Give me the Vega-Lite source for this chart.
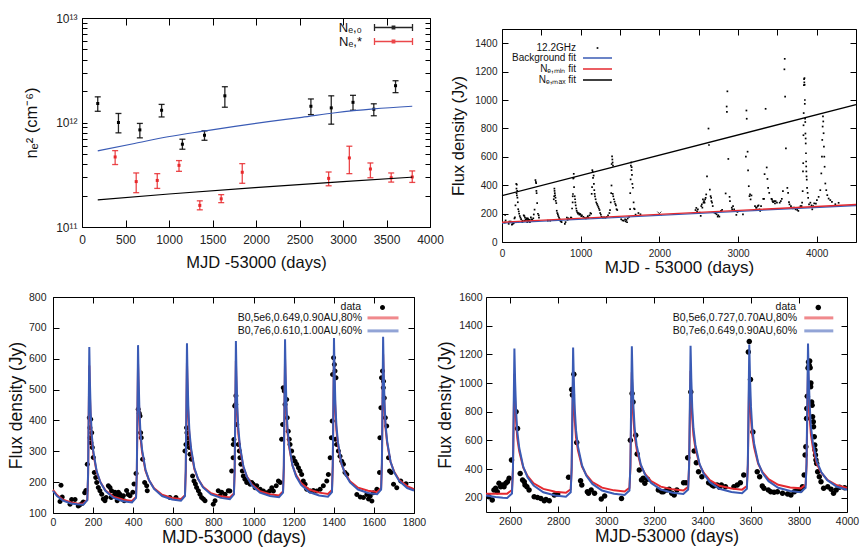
{
"$schema": "https://vega.github.io/schema/vega-lite/v6.json",
"padding": {"left": 6, "top": 11, "right": 0, "bottom": 0},
"config": {
  "font": "Liberation Sans",
  "view": {"stroke": "#000", "strokeWidth": 1},
  "axis": {"grid": false, "domain": false, "ticks": true, "tickColor": "#000", "tickWidth": 1, "labelColor": "#222", "titleColor": "#111", "titleFontWeight": "normal", "labelFont": "Liberation Sans", "titleFont": "Liberation Sans", "labelFlush": false, "labelOverlap": false},
  "legend": {"padding": 0, "labelFont": "Liberation Sans", "labelColor": "#111", "labelLimit": 400, "rowPadding": 0, "title": null, "symbolStrokeWidth": 1.3}
},
"datasets": {
  "dummy": [{"a": 0}],
  "ne": [
    {"s":"Nₑ,₀","t":181,"v":1.52e12,"lo":1.28e12,"hi":1.76e12},
    {"s":"Nₑ,₀","t":419,"v":1.0e12,"lo":7.96e11,"hi":1.22e12},
    {"s":"Nₑ,₀","t":665,"v":8.5e11,"lo":7.13e11,"hi":9.8e11},
    {"s":"Nₑ,₀","t":915,"v":1.31e12,"lo":1.13e12,"hi":1.49e12},
    {"s":"Nₑ,₀","t":1154,"v":6.2e11,"lo":5.55e11,"hi":6.92e11},
    {"s":"Nₑ,₀","t":1408,"v":7.55e11,"lo":6.76e11,"hi":8.32e11},
    {"s":"Nₑ,₀","t":1642,"v":1.8e12,"lo":1.4e12,"hi":2.2e12},
    {"s":"Nₑ,₀","t":2631,"v":1.43e12,"lo":1.19e12,"hi":1.68e12},
    {"s":"Nₑ,₀","t":2865,"v":1.38e12,"lo":9.64e11,"hi":1.8e12},
    {"s":"Nₑ,₀","t":3115,"v":1.56e12,"lo":1.31e12,"hi":1.82e12},
    {"s":"Nₑ,₀","t":3354,"v":1.34e12,"lo":1.16e12,"hi":1.51e12},
    {"s":"Nₑ,₀","t":3604,"v":2.25e12,"lo":1.93e12,"hi":2.51e12},
    {"s":"Nₑ,*","t":381,"v":4.68e11,"lo":3.96e11,"hi":5.38e11},
    {"s":"Nₑ,*","t":623,"v":2.72e11,"lo":2.13e11,"hi":3.29e11},
    {"s":"Nₑ,*","t":865,"v":2.79e11,"lo":2.34e11,"hi":3.24e11},
    {"s":"Nₑ,*","t":1115,"v":3.89e11,"lo":3.41e11,"hi":4.32e11},
    {"s":"Nₑ,*","t":1354,"v":1.61e11,"lo":1.46e11,"hi":1.78e11},
    {"s":"Nₑ,*","t":1600,"v":1.86e11,"lo":1.71e11,"hi":2.04e11},
    {"s":"Nₑ,*","t":1842,"v":3.34e11,"lo":2.62e11,"hi":4.04e11},
    {"s":"Nₑ,*","t":2835,"v":2.92e11,"lo":2.48e11,"hi":3.36e11},
    {"s":"Nₑ,*","t":3073,"v":4.58e11,"lo":3.24e11,"hi":5.93e11},
    {"s":"Nₑ,*","t":3315,"v":3.59e11,"lo":2.96e11,"hi":4.1e11},
    {"s":"Nₑ,*","t":3554,"v":2.96e11,"lo":2.69e11,"hi":3.29e11},
    {"s":"Nₑ,*","t":3796,"v":3.01e11,"lo":2.67e11,"hi":3.44e11}
  ],
  "fitTL": [
    {"c":"b","t":181,"v":5.35e11},{"c":"b","t":604,"v":6.3e11},{"c":"b","t":988,"v":7.3e11},{"c":"b","t":1408,"v":8.3e11},{"c":"b","t":1758,"v":9.2e11},{"c":"b","t":2142,"v":1.02e12},{"c":"b","t":2527,"v":1.12e12},{"c":"b","t":2912,"v":1.24e12},{"c":"b","t":3354,"v":1.35e12},{"c":"b","t":3796,"v":1.43e12},
    {"c":"k","t":181,"v":1.82e11},{"c":"k","t":1000,"v":2.07e11},{"c":"k","t":1988,"v":2.38e11},{"c":"k","t":3000,"v":2.72e11},{"c":"k","t":3796,"v":3.0e11}
  ],
  "fitTR": [
    {"c":"b","t":0,"f":133},{"c":"b","t":4500,"f":257},
    {"c":"r","t":0,"f":139},{"c":"r","t":4500,"f":264},
    {"c":"k","t":0,"f":326},{"c":"k","t":4500,"f":968}
  ],
  "cross": [{"t":2000,"f":200}],
  "flux": [
    {"t":35,"f":137},{"t":40,"f":190},{"t":46,"f":152},{"t":85,"f":128},{"t":93,"f":144},{"t":110,"f":144},{"t":126,"f":123},{"t":133,"f":126},{"t":145,"f":131},{"t":151,"f":136},{"t":158,"f":166},{"t":164,"f":173},{"t":171,"f":258},
    {"t":181,"f":409},{"t":184,"f":376},{"t":185,"f":344},{"t":188,"f":404},{"t":189,"f":328},{"t":193,"f":360},{"t":196,"f":312},{"t":201,"f":280},{"t":206,"f":231},{"t":213,"f":215},{"t":218,"f":199},{"t":226,"f":183},{"t":234,"f":172},{"t":243,"f":161},{"t":251,"f":145},{"t":259,"f":140},{"t":265,"f":150},{"t":276,"f":188},{"t":284,"f":183},{"t":290,"f":150},{"t":292,"f":172},{"t":301,"f":156},{"t":309,"f":167},{"t":317,"f":156},{"t":320,"f":140},{"t":326,"f":167},{"t":330,"f":150},{"t":334,"f":161},{"t":342,"f":145},{"t":351,"f":156},{"t":355,"f":140},{"t":367,"f":173},{"t":375,"f":160},{"t":384,"f":156},{"t":398,"f":167},{"t":404,"f":194},{"t":414,"f":228},
    {"t":425,"f":436},{"t":430,"f":423},{"t":434,"f":414},{"t":437,"f":360},{"t":440,"f":344},{"t":447,"f":274},{"t":457,"f":199},{"t":467,"f":188},{"t":470,"f":172},{"t":583,"f":150},{"t":613,"f":150},
    {"t":658,"f":301},{"t":663,"f":322},{"t":666,"f":376},{"t":668,"f":360},{"t":671,"f":344},{"t":675,"f":328},{"t":680,"f":312},{"t":683,"f":290},{"t":690,"f":274},{"t":696,"f":220},{"t":703,"f":204},{"t":710,"f":194},{"t":716,"f":183},{"t":725,"f":172},{"t":733,"f":161},{"t":741,"f":150},{"t":750,"f":145},{"t":758,"f":140},{"t":799,"f":128},{"t":808,"f":140},{"t":824,"f":172},{"t":833,"f":156},{"t":841,"f":167},{"t":858,"f":161},{"t":874,"f":172},{"t":882,"f":171},{"t":891,"f":236},{"t":898,"f":279},{"t":899,"f":322},{"t":902,"f":338},
    {"t":906,"f":447},{"t":911,"f":452},{"t":912,"f":480},{"t":916,"f":387},{"t":924,"f":322},{"t":929,"f":301},{"t":932,"f":279},{"t":937,"f":258},{"t":944,"f":236},{"t":949,"f":220},{"t":957,"f":209},{"t":966,"f":199},{"t":974,"f":204},{"t":983,"f":193},{"t":991,"f":199},{"t":999,"f":193},{"t":1008,"f":182},{"t":1016,"f":188},{"t":1033,"f":177},{"t":1049,"f":171},{"t":1066,"f":166},{"t":1080,"f":171},{"t":1091,"f":182},{"t":1099,"f":171},{"t":1113,"f":188},{"t":1124,"f":204},{"t":1133,"f":199},{"t":1140,"f":339},{"t":1145,"f":387},
    {"t":1148,"f":506},{"t":1153,"f":495},{"t":1157,"f":452},{"t":1165,"f":468},{"t":1168,"f":409},{"t":1173,"f":365},{"t":1178,"f":339},{"t":1182,"f":322},{"t":1190,"f":301},{"t":1198,"f":279},{"t":1207,"f":268},{"t":1215,"f":258},{"t":1224,"f":247},{"t":1232,"f":236},{"t":1240,"f":225},{"t":1248,"f":204},{"t":1257,"f":193},{"t":1265,"f":177},{"t":1282,"f":171},{"t":1298,"f":173},{"t":1315,"f":171},{"t":1332,"f":177},{"t":1348,"f":188},{"t":1365,"f":204},{"t":1373,"f":225},{"t":1382,"f":279},{"t":1388,"f":344},{"t":1392,"f":398},
    {"t":1394,"f":549},{"t":1399,"f":603},{"t":1403,"f":581},{"t":1406,"f":560},{"t":1408,"f":339},{"t":1411,"f":538},{"t":1414,"f":322},{"t":1423,"f":301},{"t":1431,"f":284},{"t":1440,"f":268},{"t":1448,"f":258},{"t":1456,"f":231},{"t":1465,"f":225},{"t":1515,"f":160},{"t":1532,"f":152},{"t":1548,"f":150},{"t":1565,"f":160},{"t":1573,"f":145},{"t":1582,"f":155},{"t":1590,"f":139},{"t":1598,"f":166},{"t":1615,"f":177},{"t":1628,"f":231},
    {"t":1630,"f":344},{"t":1635,"f":441},{"t":1638,"f":538},{"t":1643,"f":560},{"t":1647,"f":506},{"t":1648,"f":527},{"t":1652,"f":473},{"t":1657,"f":409},{"t":1664,"f":382},{"t":1673,"f":279},{"t":1678,"f":236},{"t":1686,"f":231},{"t":1698,"f":193},{"t":1714,"f":182},{"t":1734,"f":204},{"t":1760,"f":195},
    {"t":2460,"f":225},{"t":2470,"f":240},{"t":2480,"f":215},{"t":2490,"f":230},
    {"t":2512,"f":207},{"t":2526,"f":184},{"t":2533,"f":253},{"t":2540,"f":265},{"t":2547,"f":242},{"t":2554,"f":300},{"t":2561,"f":277},{"t":2568,"f":288},{"t":2575,"f":277},{"t":2582,"f":300},{"t":2589,"f":311},{"t":2596,"f":335},{"t":2606,"f":462},{"t":2625,"f":799},{"t":2631,"f":683},{"t":2642,"f":369},{"t":2652,"f":323},{"t":2659,"f":311},{"t":2662,"f":288},{"t":2670,"f":277},{"t":2679,"f":253},{"t":2700,"f":207},{"t":2714,"f":202},{"t":2728,"f":195},{"t":2742,"f":179},{"t":2749,"f":188},{"t":2763,"f":179},{"t":2784,"f":219},{"t":2798,"f":226},
    {"t":2843,"f":342},{"t":2856,"f":954},{"t":2859,"f":917},{"t":2865,"f":1061},{"t":2877,"f":585},{"t":2893,"f":318},{"t":2898,"f":288},{"t":2921,"f":242},{"t":2926,"f":230},{"t":2937,"f":253},{"t":2951,"f":230},{"t":2979,"f":191},{"t":2993,"f":212},{"t":3063,"f":195},
    {"t":3100,"f":601},{"t":3107,"f":926},{"t":3111,"f":868},{"t":3122,"f":636},{"t":3128,"f":504},{"t":3137,"f":393},{"t":3146,"f":323},{"t":3153,"f":335},{"t":3160,"f":300},{"t":3171,"f":328},{"t":3216,"f":253},{"t":3230,"f":242},{"t":3237,"f":242},{"t":3251,"f":253},{"t":3261,"f":258},{"t":3272,"f":230},{"t":3282,"f":219},{"t":3293,"f":253},
    {"t":3321,"f":304},{"t":3331,"f":304},{"t":3338,"f":478},{"t":3351,"f":938},{"t":3365,"f":525},{"t":3374,"f":444},{"t":3383,"f":381},{"t":3397,"f":346},{"t":3425,"f":304},{"t":3432,"f":300},{"t":3439,"f":288},{"t":3446,"f":281},{"t":3460,"f":288},{"t":3470,"f":272},{"t":3478,"f":288},{"t":3495,"f":277},{"t":3530,"f":277},{"t":3544,"f":288},{"t":3557,"f":304},{"t":3571,"f":358},
    {"t":3590,"f":1216},{"t":3594,"f":1290},{"t":3599,"f":1024},{"t":3609,"f":659},{"t":3627,"f":381},{"t":3637,"f":346},{"t":3648,"f":281},{"t":3655,"f":265},{"t":3673,"f":253},{"t":3683,"f":242},{"t":3697,"f":237},{"t":3711,"f":242},{"t":3732,"f":230},{"t":3753,"f":226},{"t":3767,"f":219},{"t":3781,"f":242},{"t":3795,"f":253},{"t":3808,"f":253},{"t":3815,"f":277},
    {"t":3822,"f":358},{"t":3826,"f":497},{"t":3829,"f":555},{"t":3832,"f":752},{"t":3833,"f":822},{"t":3835,"f":908},{"t":3838,"f":1105},{"t":3840,"f":1147},{"t":3843,"f":1124},{"t":3845,"f":1154},{"t":3847,"f":1107},{"t":3849,"f":973},{"t":3850,"f":1000},{"t":3853,"f":868},{"t":3855,"f":845},{"t":3857,"f":764},{"t":3860,"f":729},{"t":3861,"f":694},{"t":3864,"f":625},{"t":3866,"f":567},{"t":3867,"f":532},{"t":3869,"f":497},{"t":3871,"f":462},{"t":3874,"f":439},{"t":3878,"f":381},{"t":3885,"f":346},{"t":3892,"f":311},{"t":3903,"f":265},{"t":3920,"f":277},{"t":3934,"f":258},{"t":3944,"f":230},{"t":3955,"f":253},{"t":3969,"f":272},{"t":3990,"f":270},
    {"t":4003,"f":295},{"t":4025,"f":318},{"t":4046,"f":365},{"t":4059,"f":483},{"t":4067,"f":601},{"t":4071,"f":719},{"t":4076,"f":813},{"t":4080,"f":884},{"t":4084,"f":849},{"t":4088,"f":766},{"t":4092,"f":672},{"t":4097,"f":601},{"t":4101,"f":530},{"t":4110,"f":412},{"t":4122,"f":365},{"t":4135,"f":330},{"t":4152,"f":306},{"t":4173,"f":295},{"t":4194,"f":283},{"t":4237,"f":266},{"t":4279,"f":276}
  ],
  "mBL": [
    {"c":"b","t":0,"f":172},{"c":"b","t":20,"f":155},{"c":"b","t":50,"f":140},{"c":"b","t":90,"f":131},{"c":"b","t":120,"f":128},
    {"c":"b","t":151,"f":127},{"c":"b","t":171,"f":142},{"c":"b","t":175,"f":229},{"c":"b","t":178,"f":434},{"c":"b","t":181,"f":638},{"c":"b","t":184,"f":527},{"c":"b","t":188,"f":426},{"c":"b","t":193,"f":356},{"c":"b","t":201,"f":300},{"c":"b","t":218,"f":235},{"c":"b","t":236,"f":200},{"c":"b","t":261,"f":172},{"c":"b","t":301,"f":149},{"c":"b","t":351,"f":138},
    {"c":"b","t":394,"f":134},{"c":"b","t":414,"f":149},{"c":"b","t":418,"f":236},{"c":"b","t":421,"f":440},{"c":"b","t":424,"f":644},{"c":"b","t":427,"f":533},{"c":"b","t":431,"f":432},{"c":"b","t":436,"f":362},{"c":"b","t":444,"f":306},{"c":"b","t":461,"f":241},{"c":"b","t":479,"f":206},{"c":"b","t":504,"f":178},{"c":"b","t":544,"f":155},{"c":"b","t":594,"f":144},
    {"c":"b","t":638,"f":140},{"c":"b","t":658,"f":155},{"c":"b","t":662,"f":242},{"c":"b","t":665,"f":446},{"c":"b","t":668,"f":650},{"c":"b","t":671,"f":539},{"c":"b","t":675,"f":438},{"c":"b","t":680,"f":367},{"c":"b","t":688,"f":312},{"c":"b","t":705,"f":246},{"c":"b","t":723,"f":211},{"c":"b","t":748,"f":183},{"c":"b","t":788,"f":160},{"c":"b","t":838,"f":149},
    {"c":"b","t":882,"f":145},{"c":"b","t":902,"f":160},{"c":"b","t":906,"f":247},{"c":"b","t":909,"f":452},{"c":"b","t":912,"f":657},{"c":"b","t":915,"f":546},{"c":"b","t":919,"f":444},{"c":"b","t":924,"f":374},{"c":"b","t":932,"f":318},{"c":"b","t":949,"f":252},{"c":"b","t":967,"f":217},{"c":"b","t":992,"f":189},{"c":"b","t":1032,"f":166},{"c":"b","t":1082,"f":155},
    {"c":"b","t":1127,"f":151},{"c":"b","t":1147,"f":166},{"c":"b","t":1151,"f":253},{"c":"b","t":1154,"f":458},{"c":"b","t":1157,"f":663},{"c":"b","t":1160,"f":551},{"c":"b","t":1164,"f":449},{"c":"b","t":1169,"f":377},{"c":"b","t":1177,"f":321},{"c":"b","t":1194,"f":255},{"c":"b","t":1212,"f":219},{"c":"b","t":1237,"f":191},{"c":"b","t":1277,"f":168},{"c":"b","t":1327,"f":157},
    {"c":"b","t":1371,"f":153},{"c":"b","t":1391,"f":168},{"c":"b","t":1395,"f":256},{"c":"b","t":1398,"f":461},{"c":"b","t":1401,"f":667},{"c":"b","t":1404,"f":556},{"c":"b","t":1408,"f":454},{"c":"b","t":1413,"f":384},{"c":"b","t":1421,"f":328},{"c":"b","t":1438,"f":262},{"c":"b","t":1456,"f":227},{"c":"b","t":1481,"f":199},{"c":"b","t":1521,"f":176},{"c":"b","t":1571,"f":165},
    {"c":"b","t":1616,"f":161},{"c":"b","t":1636,"f":176},{"c":"b","t":1640,"f":263},{"c":"b","t":1643,"f":467},{"c":"b","t":1646,"f":671},{"c":"b","t":1649,"f":560},{"c":"b","t":1653,"f":459},{"c":"b","t":1658,"f":388},{"c":"b","t":1666,"f":333},{"c":"b","t":1683,"f":267},{"c":"b","t":1701,"f":232},{"c":"b","t":1726,"f":204},{"c":"b","t":1766,"f":181},{"c":"b","t":1800,"f":173},
    {"c":"r","t":0,"f":175},{"c":"r","t":20,"f":158},{"c":"r","t":50,"f":143},{"c":"r","t":90,"f":134},{"c":"r","t":120,"f":131},
    {"c":"r","t":151,"f":130},{"c":"r","t":171,"f":143},{"c":"r","t":175,"f":220},{"c":"r","t":178,"f":399},{"c":"r","t":181,"f":578},{"c":"r","t":184,"f":481},{"c":"r","t":188,"f":402},{"c":"r","t":193,"f":341},{"c":"r","t":201,"f":293},{"c":"r","t":218,"f":231},{"c":"r","t":236,"f":200},{"c":"r","t":261,"f":174},{"c":"r","t":301,"f":153},{"c":"r","t":351,"f":143},
    {"c":"r","t":394,"f":139},{"c":"r","t":414,"f":152},{"c":"r","t":418,"f":228},{"c":"r","t":421,"f":405},{"c":"r","t":424,"f":583},{"c":"r","t":427,"f":487},{"c":"r","t":431,"f":408},{"c":"r","t":436,"f":346},{"c":"r","t":444,"f":298},{"c":"r","t":461,"f":237},{"c":"r","t":479,"f":206},{"c":"r","t":504,"f":180},{"c":"r","t":544,"f":159},{"c":"r","t":594,"f":149},
    {"c":"r","t":638,"f":145},{"c":"r","t":658,"f":158},{"c":"r","t":662,"f":234},{"c":"r","t":665,"f":411},{"c":"r","t":668,"f":588},{"c":"r","t":671,"f":492},{"c":"r","t":675,"f":413},{"c":"r","t":680,"f":351},{"c":"r","t":688,"f":303},{"c":"r","t":705,"f":242},{"c":"r","t":723,"f":211},{"c":"r","t":748,"f":185},{"c":"r","t":788,"f":164},{"c":"r","t":838,"f":154},
    {"c":"r","t":882,"f":150},{"c":"r","t":902,"f":163},{"c":"r","t":906,"f":239},{"c":"r","t":909,"f":416},{"c":"r","t":912,"f":593},{"c":"r","t":915,"f":497},{"c":"r","t":919,"f":419},{"c":"r","t":924,"f":358},{"c":"r","t":932,"f":310},{"c":"r","t":949,"f":249},{"c":"r","t":967,"f":218},{"c":"r","t":992,"f":192},{"c":"r","t":1032,"f":171},{"c":"r","t":1082,"f":161},
    {"c":"r","t":1127,"f":157},{"c":"r","t":1147,"f":170},{"c":"r","t":1151,"f":245},{"c":"r","t":1154,"f":422},{"c":"r","t":1157,"f":598},{"c":"r","t":1160,"f":502},{"c":"r","t":1164,"f":424},{"c":"r","t":1169,"f":363},{"c":"r","t":1177,"f":315},{"c":"r","t":1194,"f":254},{"c":"r","t":1212,"f":223},{"c":"r","t":1237,"f":197},{"c":"r","t":1277,"f":176},{"c":"r","t":1327,"f":166},
    {"c":"r","t":1371,"f":162},{"c":"r","t":1391,"f":175},{"c":"r","t":1395,"f":251},{"c":"r","t":1398,"f":428},{"c":"r","t":1401,"f":606},{"c":"r","t":1404,"f":510},{"c":"r","t":1408,"f":431},{"c":"r","t":1413,"f":369},{"c":"r","t":1421,"f":321},{"c":"r","t":1438,"f":260},{"c":"r","t":1456,"f":229},{"c":"r","t":1481,"f":203},{"c":"r","t":1521,"f":182},{"c":"r","t":1571,"f":172},
    {"c":"r","t":1616,"f":168},{"c":"r","t":1636,"f":181},{"c":"r","t":1640,"f":257},{"c":"r","t":1643,"f":436},{"c":"r","t":1646,"f":614},{"c":"r","t":1649,"f":517},{"c":"r","t":1653,"f":437},{"c":"r","t":1658,"f":375},{"c":"r","t":1666,"f":327},{"c":"r","t":1683,"f":265},{"c":"r","t":1701,"f":234},{"c":"r","t":1726,"f":207},{"c":"r","t":1766,"f":187},{"c":"r","t":1800,"f":177}
  ],
  "mBR": [
    {"c":"b","t":2500,"f":215},{"c":"b","t":2540,"f":205},{"c":"b","t":2570,"f":200},
    {"c":"b","t":2588,"f":198},{"c":"b","t":2608,"f":229},{"c":"b","t":2612,"f":406},{"c":"b","t":2615,"f":823},{"c":"b","t":2618,"f":1240},{"c":"b","t":2621,"f":1013},{"c":"b","t":2625,"f":806},{"c":"b","t":2630,"f":662},{"c":"b","t":2638,"f":548},{"c":"b","t":2655,"f":414},{"c":"b","t":2673,"f":341},{"c":"b","t":2698,"f":284},{"c":"b","t":2738,"f":238},{"c":"b","t":2788,"f":215},
    {"c":"b","t":2832,"f":207},{"c":"b","t":2852,"f":238},{"c":"b","t":2856,"f":415},{"c":"b","t":2859,"f":831},{"c":"b","t":2862,"f":1247},{"c":"b","t":2865,"f":1021},{"c":"b","t":2869,"f":815},{"c":"b","t":2874,"f":671},{"c":"b","t":2882,"f":558},{"c":"b","t":2899,"f":425},{"c":"b","t":2917,"f":353},{"c":"b","t":2942,"f":296},{"c":"b","t":2982,"f":250},{"c":"b","t":3032,"f":227},
    {"c":"b","t":3076,"f":219},{"c":"b","t":3096,"f":250},{"c":"b","t":3100,"f":426},{"c":"b","t":3103,"f":841},{"c":"b","t":3106,"f":1256},{"c":"b","t":3109,"f":1029},{"c":"b","t":3113,"f":823},{"c":"b","t":3118,"f":679},{"c":"b","t":3126,"f":566},{"c":"b","t":3143,"f":432},{"c":"b","t":3161,"f":360},{"c":"b","t":3186,"f":303},{"c":"b","t":3226,"f":257},{"c":"b","t":3276,"f":234},
    {"c":"b","t":3320,"f":226},{"c":"b","t":3340,"f":257},{"c":"b","t":3344,"f":433},{"c":"b","t":3347,"f":846},{"c":"b","t":3350,"f":1259},{"c":"b","t":3353,"f":1033},{"c":"b","t":3357,"f":827},{"c":"b","t":3362,"f":683},{"c":"b","t":3370,"f":570},{"c":"b","t":3387,"f":437},{"c":"b","t":3405,"f":365},{"c":"b","t":3430,"f":308},{"c":"b","t":3470,"f":262},{"c":"b","t":3520,"f":239},
    {"c":"b","t":3564,"f":231},{"c":"b","t":3584,"f":262},{"c":"b","t":3588,"f":438},{"c":"b","t":3591,"f":853},{"c":"b","t":3594,"f":1268},{"c":"b","t":3597,"f":1041},{"c":"b","t":3601,"f":835},{"c":"b","t":3606,"f":691},{"c":"b","t":3614,"f":578},{"c":"b","t":3631,"f":444},{"c":"b","t":3649,"f":372},{"c":"b","t":3674,"f":315},{"c":"b","t":3714,"f":269},{"c":"b","t":3764,"f":246},
    {"c":"b","t":3808,"f":238},{"c":"b","t":3828,"f":269},{"c":"b","t":3832,"f":445},{"c":"b","t":3835,"f":860},{"c":"b","t":3838,"f":1275},{"c":"b","t":3841,"f":1048},{"c":"b","t":3845,"f":842},{"c":"b","t":3850,"f":698},{"c":"b","t":3858,"f":585},{"c":"b","t":3875,"f":451},{"c":"b","t":3893,"f":379},{"c":"b","t":3918,"f":322},{"c":"b","t":3958,"f":276},{"c":"b","t":4000,"f":255},
    {"c":"r","t":2500,"f":228},{"c":"r","t":2540,"f":228},{"c":"r","t":2570,"f":228},
    {"c":"r","t":2588,"f":228},{"c":"r","t":2608,"f":253},{"c":"r","t":2612,"f":395},{"c":"r","t":2615,"f":730},{"c":"r","t":2618,"f":1065},{"c":"r","t":2621,"f":882},{"c":"r","t":2625,"f":733},{"c":"r","t":2630,"f":616},{"c":"r","t":2638,"f":525},{"c":"r","t":2655,"f":409},{"c":"r","t":2673,"f":350},{"c":"r","t":2698,"f":300},{"c":"r","t":2738,"f":261},{"c":"r","t":2788,"f":242},
    {"c":"r","t":2832,"f":234},{"c":"r","t":2852,"f":259},{"c":"r","t":2856,"f":400},{"c":"r","t":2859,"f":733},{"c":"r","t":2862,"f":1065},{"c":"r","t":2865,"f":884},{"c":"r","t":2869,"f":736},{"c":"r","t":2874,"f":621},{"c":"r","t":2882,"f":531},{"c":"r","t":2899,"f":416},{"c":"r","t":2917,"f":358},{"c":"r","t":2942,"f":309},{"c":"r","t":2982,"f":270},{"c":"r","t":3032,"f":251},
    {"c":"r","t":3076,"f":243},{"c":"r","t":3096,"f":268},{"c":"r","t":3100,"f":409},{"c":"r","t":3103,"f":742},{"c":"r","t":3106,"f":1075},{"c":"r","t":3109,"f":894},{"c":"r","t":3113,"f":745},{"c":"r","t":3118,"f":630},{"c":"r","t":3126,"f":539},{"c":"r","t":3143,"f":423},{"c":"r","t":3161,"f":366},{"c":"r","t":3186,"f":316},{"c":"r","t":3226,"f":277},{"c":"r","t":3276,"f":258},
    {"c":"r","t":3320,"f":250},{"c":"r","t":3340,"f":275},{"c":"r","t":3344,"f":417},{"c":"r","t":3347,"f":751},{"c":"r","t":3350,"f":1085},{"c":"r","t":3353,"f":903},{"c":"r","t":3357,"f":753},{"c":"r","t":3362,"f":637},{"c":"r","t":3370,"f":546},{"c":"r","t":3387,"f":430},{"c":"r","t":3405,"f":372},{"c":"r","t":3430,"f":322},{"c":"r","t":3470,"f":283},{"c":"r","t":3520,"f":264},
    {"c":"r","t":3564,"f":256},{"c":"r","t":3584,"f":281},{"c":"r","t":3588,"f":422},{"c":"r","t":3591,"f":753},{"c":"r","t":3594,"f":1085},{"c":"r","t":3597,"f":904},{"c":"r","t":3601,"f":756},{"c":"r","t":3606,"f":641},{"c":"r","t":3614,"f":551},{"c":"r","t":3631,"f":436},{"c":"r","t":3649,"f":378},{"c":"r","t":3674,"f":329},{"c":"r","t":3714,"f":290},{"c":"r","t":3764,"f":271},
    {"c":"r","t":3808,"f":265},{"c":"r","t":3828,"f":290},{"c":"r","t":3832,"f":431},{"c":"r","t":3835,"f":763},{"c":"r","t":3838,"f":1095},{"c":"r","t":3841,"f":911},{"c":"r","t":3845,"f":760},{"c":"r","t":3850,"f":643},{"c":"r","t":3858,"f":551},{"c":"r","t":3875,"f":434},{"c":"r","t":3893,"f":375},{"c":"r","t":3918,"f":325},{"c":"r","t":3958,"f":286},{"c":"r","t":4000,"f":268}
  ]
},
"resolve": {"scale": {"color": "independent", "shape": "independent"}, "legend": {"color": "independent", "shape": "independent"}},
"spacing": 15,
"vconcat": [
 {
  "hconcat": [
   {"width": 1, "height": 1, "view": {"stroke": null}, "data": {"name": "dummy"}, "mark": {"type": "point", "opacity": 0}, "encoding": {}},
   {
    "hconcat": [
     {
      "width": 348, "height": 209,
      "resolve": {"axis": {"x": "independent", "y": "independent"}},
      "layer": [
       {
        "layer": [
         {"data": {"name": "ne"}, "mark": {"type": "rule", "strokeWidth": 1.3, "opacity": 0.85},
          "encoding": {
           "x": {"field": "t", "type": "quantitative", "scale": {"domain": [0, 4000], "nice": false, "zero": false},
                 "axis": {"values": [0,500,1000,1500,2000,2500,3000,3500,4000], "format": "d", "labelOverlap": false, "title": "MJD -53000 (days)", "labelFontSize": 12, "titleFontSize": 16.5, "tickSize": -7, "labelPadding": 14, "titlePadding": 9}},
           "y": {"field": "lo", "type": "quantitative", "scale": {"type": "log", "domain": [1e11, 1e13], "nice": false},
                 "axis": {"values": [1e11,2e11,3e11,4e11,5e11,6e11,7e11,8e11,9e11,1e12,2e12,3e12,4e12,5e12,6e12,7e12,8e12,9e12,1e13], "labelOverlap": false,
                          "labelExpr": "datum.value == 1e11 ? '10¹¹' : datum.value == 1e12 ? '10¹²' : datum.value == 1e13 ? '10¹³' : ''",
                          "title": "nₑ² (cm⁻⁶)", "labelFontSize": 12, "titleFontSize": 16.5, "tickSize": -5, "labelPadding": 10, "titlePadding": 16}},
           "y2": {"field": "hi"},
           "color": {"field": "s", "type": "nominal", "scale": {"domain": ["Nₑ,₀", "Nₑ,*"], "range": ["#000000", "#e8282b"]},
                     "legend": {"orient": "none", "legendX": 305, "legendY": 3, "rowPadding": -3, "labelFontSize": 13, "labelAlign": "right", "labelOffset": -38, "symbolSize": 100,
                                "symbolType": "M-3.8,0H3.8M-3.8,-0.7V0.7M3.8,-0.7V0.7M-0.25,-0.25H0.25V0.25H-0.25Z"}}
          }},
         {"data": {"name": "ne"}, "mark": {"type": "tick", "orient": "horizontal", "size": 6, "thickness": 1.3, "opacity": 0.85},
          "encoding": {"x": {"field": "t", "type": "quantitative"}, "y": {"field": "lo", "type": "quantitative"}, "color": {"field": "s", "type": "nominal"}}},
         {"data": {"name": "ne"}, "mark": {"type": "tick", "orient": "horizontal", "size": 6, "thickness": 1.3, "opacity": 0.85},
          "encoding": {"x": {"field": "t", "type": "quantitative"}, "y": {"field": "hi", "type": "quantitative"}, "color": {"field": "s", "type": "nominal"}}},
         {"data": {"name": "ne"}, "mark": {"type": "square", "size": 9, "opacity": 1},
          "encoding": {"x": {"field": "t", "type": "quantitative"}, "y": {"field": "v", "type": "quantitative"}, "color": {"field": "s", "type": "nominal"}}},
         {"data": {"name": "fitTL"}, "transform": [{"filter": "datum.c == 'b'"}], "mark": {"type": "line", "strokeWidth": 1.2, "color": "#3a5bb5", "interpolate": "monotone"},
          "encoding": {"x": {"field": "t", "type": "quantitative"}, "y": {"field": "v", "type": "quantitative"}}},
         {"data": {"name": "fitTL"}, "transform": [{"filter": "datum.c == 'k'"}], "mark": {"type": "line", "strokeWidth": 1.2, "color": "#000000", "interpolate": "monotone"},
          "encoding": {"x": {"field": "t", "type": "quantitative"}, "y": {"field": "v", "type": "quantitative"}}}
        ]
       },
       {"data": {"name": "ne"}, "mark": {"type": "point", "opacity": 0},
        "encoding": {
         "x": {"field": "t", "type": "quantitative", "scale": {"domain": [0, 4000], "nice": false, "zero": false}, "axis": {"orient": "top", "values": [0,500,1000,1500,2000,2500,3000,3500,4000], "labels": false, "title": null, "tickSize": -7}},
         "y": {"field": "v", "type": "quantitative", "scale": {"type": "log", "domain": [1e11, 1e13], "nice": false}, "axis": {"orient": "right", "values": [1e11,2e11,3e11,4e11,5e11,6e11,7e11,8e11,9e11,1e12,2e12,3e12,4e12,5e12,6e12,7e12,8e12,9e12,1e13], "labels": false, "title": null, "tickSize": -5}}
        }}
      ]
     },
     {
      "vconcat": [
       {"width": 1, "height": 1, "view": {"stroke": null}, "data": {"name": "dummy"}, "mark": {"type": "point", "opacity": 0}, "encoding": {}},
       {
        "width": 354, "height": 213,
        "resolve": {"axis": {"x": "independent", "y": "independent"}},
        "layer": [
         {
          "layer": [
           {"data": {"name": "flux"}, "mark": {"type": "point", "filled": true, "size": 100, "opacity": 1, "color": "#000000"},
            "encoding": {
             "x": {"field": "t", "type": "quantitative", "scale": {"domain": [0, 4500], "nice": false, "zero": false},
                   "axis": {"values": [0,500,1000,1500,2000,2500,3000,3500,4000,4500], "format": "d", "labelOverlap": false, "title": "MJD - 53000 (days)", "labelFontSize": 10, "titleFontSize": 17, "tickSize": -6, "labelPadding": 12, "titlePadding": 1}},
             "y": {"field": "f", "type": "quantitative", "scale": {"domain": [0, 1500], "nice": false},
                   "axis": {"values": [0,200,400,600,800,1000,1200,1400], "format": "d", "labelOverlap": false, "title": "Flux density (Jy)", "labelFontSize": 10, "titleFontSize": 16.5, "tickSize": -6, "labelPadding": 11, "titlePadding": 8}},
             "shape": {"datum": "12.2GHz", "type": "nominal", "scale": {"domain": ["12.2GHz"], "range": ["M-0.17,-0.17H0.17V0.17H-0.17Z"]},
                       "legend": {"orient": "none", "legendX": 89.5, "legendY": 13, "labelFontSize": 10, "labelAlign": "right", "labelOffset": -27.5, "symbolSize": 100, "symbolFillColor": "#000000", "symbolStrokeColor": "transparent"}}
            }},
           {"data": {"name": "cross"}, "mark": {"type": "point", "shape": "M-1,-1L1,1M-1,1L1,-1", "size": 16, "filled": false, "strokeWidth": 1, "color": "#444444", "opacity": 1},
            "encoding": {"x": {"field": "t", "type": "quantitative"}, "y": {"field": "f", "type": "quantitative"}}},
           {"data": {"name": "fitTR"}, "transform": [{"filter": "datum.c == 'b'"}], "mark": {"type": "line", "strokeWidth": 1.3},
            "encoding": {"x": {"field": "t", "type": "quantitative"}, "y": {"field": "f", "type": "quantitative"},
                         "color": {"datum": "Background fit", "type": "nominal", "scale": {"domain": ["Background fit", "Nₑ,ₘᵢₙ fit", "Nₑ,ₘₐₓ fit"], "range": ["#3a5bb5", "#e4292f", "#000000"]},
                                   "legend": {"orient": "none", "legendX": 89.5, "legendY": 23, "rowPadding": -6, "labelFontSize": 10, "labelAlign": "right", "labelOffset": -27.5, "symbolSize": 100, "symbolType": "M-2.9,0H2.9", "symbolStrokeWidth": 1.5}}}},
           {"data": {"name": "fitTR"}, "transform": [{"filter": "datum.c == 'r'"}], "mark": {"type": "line", "strokeWidth": 1.3},
            "encoding": {"x": {"field": "t", "type": "quantitative"}, "y": {"field": "f", "type": "quantitative"}, "color": {"datum": "Nₑ,ₘᵢₙ fit", "type": "nominal"}}},
           {"data": {"name": "fitTR"}, "transform": [{"filter": "datum.c == 'k'"}], "mark": {"type": "line", "strokeWidth": 1.3},
            "encoding": {"x": {"field": "t", "type": "quantitative"}, "y": {"field": "f", "type": "quantitative"}, "color": {"datum": "Nₑ,ₘₐₓ fit", "type": "nominal"}}}
          ]
         },
         {"data": {"name": "cross"}, "mark": {"type": "point", "opacity": 0},
          "encoding": {
           "x": {"field": "t", "type": "quantitative", "scale": {"domain": [0, 4500], "nice": false, "zero": false}, "axis": {"orient": "top", "values": [0,500,1000,1500,2000,2500,3000,3500,4000,4500], "labels": false, "title": null, "tickSize": -6}},
           "y": {"field": "f", "type": "quantitative", "scale": {"domain": [0, 1500], "nice": false}, "axis": {"orient": "right", "values": [0,200,400,600,800,1000,1200,1400], "labels": false, "title": null, "tickSize": -6}}
          }},
         {"data": {"name": "cross"}, "mark": {"type": "point", "opacity": 0},
          "encoding": {
           "y": {"field": "f", "type": "quantitative", "scale": {"domain": [0, 1500], "nice": false}, "axis": {"orient": "left", "values": [200,600,1000,1400], "format": "d", "labelOverlap": false, "labelFontSize": 10, "labelPadding": 11, "title": null, "tickSize": -6}}
          }}
        ]
       }
      ],
      "spacing": 10,
      "bounds": "flush",
      "resolve": {"scale": {"color": "independent", "shape": "independent"}, "legend": {"color": "independent", "shape": "independent"}}
     }
    ],
    "spacing": 72,
    "bounds": "flush",
    "resolve": {"scale": {"color": "independent", "shape": "independent"}, "legend": {"color": "independent", "shape": "independent"}}
   }
  ],
  "spacing": 28,
  "bounds": "flush",
  "resolve": {"scale": {"color": "independent", "shape": "independent"}, "legend": {"color": "independent", "shape": "independent"}}
 },
 {
  "hconcat": [
   {
    "width": 361, "height": 216,
    "resolve": {"axis": {"x": "independent", "y": "independent"}},
    "layer": [
     {
      "layer": [
       {"data": {"name": "flux"}, "transform": [{"filter": "datum.t <= 1800"}], "mark": {"type": "point", "filled": true, "size": 100, "opacity": 1, "color": "#000000"},
        "encoding": {
         "x": {"field": "t", "type": "quantitative", "scale": {"domain": [0, 1800], "nice": false, "zero": false},
               "axis": {"values": [0,200,400,600,800,1000,1200,1400,1600,1800], "format": "d", "labelOverlap": false, "title": "MJD-53000 (days)", "labelFontSize": 10.5, "titleFontSize": 17.5, "tickSize": -6, "labelPadding": 10, "titlePadding": 1}},
         "y": {"field": "f", "type": "quantitative", "scale": {"domain": [100, 800], "nice": false, "zero": false},
               "axis": {"values": [100,200,300,400,500,600,700,800], "format": "d", "labelOverlap": false, "title": "Flux density (Jy)", "labelFontSize": 10.5, "titleFontSize": 17.5, "tickSize": -6, "labelPadding": 13, "titlePadding": 3}},
         "shape": {"datum": "data", "type": "nominal", "scale": {"domain": ["data"], "range": ["M0.5,0A0.5,0.5 0 1,1 -0.5,0A0.5,0.5 0 1,1 0.5,0Z"]},
                   "legend": {"orient": "none", "legendX": 323.5, "legendY": 4.4, "labelFontSize": 10.5, "labelAlign": "right", "labelOffset": -27.5, "symbolSize": 100, "symbolFillColor": "#000000", "symbolStrokeColor": "transparent"}}
        }},
       {"data": {"name": "mBL"}, "transform": [{"filter": "datum.c == 'r'"}], "mark": {"type": "line", "strokeWidth": 2},
        "encoding": {"x": {"field": "t", "type": "quantitative"}, "y": {"field": "f", "type": "quantitative"},
                     "color": {"datum": "B0,5e6,0.649,0.90AU,80%", "type": "nominal", "scale": {"domain": ["B0,5e6,0.649,0.90AU,80%", "B0,7e6,0.610,1.00AU,60%"], "range": ["#e4292f", "#3a5bb5"]},
                               "legend": {"orient": "none", "legendX": 323.5, "legendY": 14.4, "rowPadding": -6, "labelFontSize": 10.5, "labelAlign": "right", "labelOffset": -27.5, "symbolSize": 100, "symbolType": "M-3.1,0H3.1", "symbolStrokeWidth": 3, "symbolOpacity": 0.55}}}},
       {"data": {"name": "mBL"}, "transform": [{"filter": "datum.c == 'b'"}], "mark": {"type": "line", "strokeWidth": 2},
        "encoding": {"x": {"field": "t", "type": "quantitative"}, "y": {"field": "f", "type": "quantitative"}, "color": {"datum": "B0,7e6,0.610,1.00AU,60%", "type": "nominal"}}}
      ]
     },
     {"data": {"name": "cross"}, "mark": {"type": "point", "opacity": 0},
      "encoding": {
       "x": {"field": "t", "type": "quantitative", "scale": {"domain": [0, 1800], "nice": false, "zero": false}, "axis": {"orient": "top", "values": [0,200,400,600,800,1000,1200,1400,1600,1800], "labels": false, "title": null, "tickSize": -6}},
       "y": {"field": "f", "type": "quantitative", "scale": {"domain": [100, 800], "nice": false, "zero": false}, "axis": {"orient": "right", "values": [100,200,300,400,500,600,700,800], "labels": false, "title": null, "tickSize": -6}}
      }},
     {"data": {"name": "cross"}, "mark": {"type": "point", "opacity": 0},
      "encoding": {
       "y": {"field": "f", "type": "quantitative", "scale": {"domain": [100, 800], "nice": false, "zero": false}, "axis": {"orient": "left", "values": [200,400,600,800], "format": "d", "labelOverlap": false, "labelFontSize": 10.5, "labelPadding": 13, "title": null, "tickSize": -6}}
      }}
    ]
   },
   {
    "width": 361, "height": 215,
    "resolve": {"axis": {"x": "independent", "y": "independent"}},
    "layer": [
     {
      "layer": [
       {"data": {"name": "flux"}, "transform": [{"filter": "datum.t >= 2500 && datum.t <= 4000"}], "mark": {"type": "point", "filled": true, "size": 100, "opacity": 1, "color": "#000000"},
        "encoding": {
         "x": {"field": "t", "type": "quantitative", "scale": {"domain": [2500, 4000], "nice": false, "zero": false},
               "axis": {"values": [2600,2800,3000,3200,3400,3600,3800,4000], "format": "d", "labelOverlap": false, "title": "MJD-53000 (days)", "labelFontSize": 10.5, "titleFontSize": 17.5, "tickSize": -6, "labelPadding": 10, "titlePadding": 1}},
         "y": {"field": "f", "type": "quantitative", "scale": {"domain": [100, 1600], "nice": false, "zero": false},
               "axis": {"values": [200,400,600,800,1000,1200,1400,1600], "format": "d", "labelOverlap": false, "title": "Flux density (Jy)", "labelFontSize": 10.5, "titleFontSize": 17.5, "tickSize": -6, "labelPadding": 10, "titlePadding": 4}},
         "shape": {"datum": "data", "type": "nominal", "scale": {"domain": ["data"], "range": ["M0.55,0A0.55,0.55 0 1,1 -0.55,0A0.55,0.55 0 1,1 0.55,0Z"]},
                   "legend": {"orient": "none", "legendX": 326.3, "legendY": 4.4, "labelFontSize": 10.5, "labelAlign": "right", "labelOffset": -28.3, "symbolSize": 100, "symbolFillColor": "#000000", "symbolStrokeColor": "transparent"}}
        }},
       {"data": {"name": "mBR"}, "transform": [{"filter": "datum.c == 'r'"}], "mark": {"type": "line", "strokeWidth": 2},
        "encoding": {"x": {"field": "t", "type": "quantitative"}, "y": {"field": "f", "type": "quantitative"},
                     "color": {"datum": "B0,5e6,0.727,0.70AU,80%", "type": "nominal", "scale": {"domain": ["B0,5e6,0.727,0.70AU,80%", "B0,7e6,0.649,0.90AU,60%"], "range": ["#e4292f", "#3a5bb5"]},
                               "legend": {"orient": "none", "legendX": 326.3, "legendY": 14.4, "rowPadding": -6, "labelFontSize": 10.5, "labelAlign": "right", "labelOffset": -28.3, "symbolSize": 100, "symbolType": "M-2.9,0H2.9", "symbolStrokeWidth": 3, "symbolOpacity": 0.55}}}},
       {"data": {"name": "mBR"}, "transform": [{"filter": "datum.c == 'b'"}], "mark": {"type": "line", "strokeWidth": 2},
        "encoding": {"x": {"field": "t", "type": "quantitative"}, "y": {"field": "f", "type": "quantitative"}, "color": {"datum": "B0,7e6,0.649,0.90AU,60%", "type": "nominal"}}}
      ]
     },
     {"data": {"name": "mBR"}, "mark": {"type": "point", "opacity": 0},
      "encoding": {
       "x": {"field": "t", "type": "quantitative", "scale": {"domain": [2500, 4000], "nice": false, "zero": false}, "axis": {"orient": "top", "values": [2600,2800,3000,3200,3400,3600,3800,4000], "labels": false, "title": null, "tickSize": -6}},
       "y": {"field": "f", "type": "quantitative", "scale": {"domain": [100, 1600], "nice": false, "zero": false}, "axis": {"orient": "right", "values": [200,400,600,800,1000,1200,1400,1600], "labels": false, "title": null, "tickSize": -6}}
      }},
     {"data": {"name": "mBR"}, "mark": {"type": "point", "opacity": 0},
      "encoding": {
       "y": {"field": "f", "type": "quantitative", "scale": {"domain": [100, 1600], "nice": false, "zero": false}, "axis": {"orient": "left", "values": [400,800,1200,1600], "format": "d", "labelOverlap": false, "labelFontSize": 10.5, "labelPadding": 10, "title": null, "tickSize": -6}}
      }}
    ]
   }
  ],
  "spacing": 72,
  "bounds": "flush",
  "resolve": {"scale": {"color": "independent", "shape": "independent"}, "legend": {"color": "independent", "shape": "independent"}}
 }
]
}
